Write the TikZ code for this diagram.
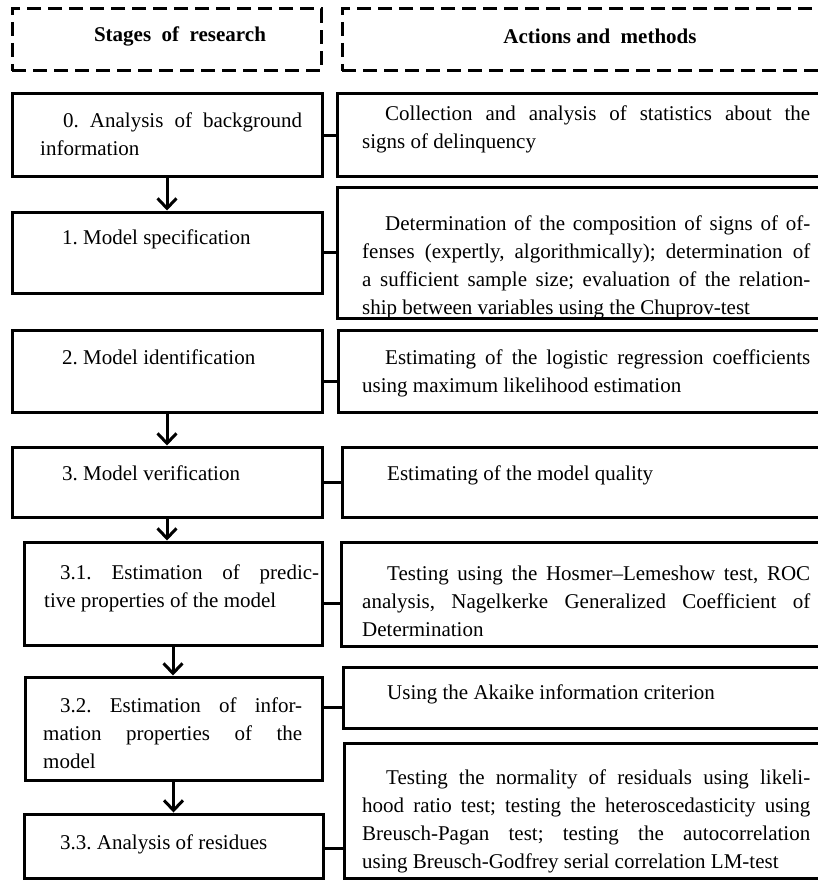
\documentclass[tikz,border=0pt]{standalone}
\usepackage{fontspec}
\setmainfont{Liberation Serif}
\usetikzlibrary{arrows.meta,fit}
\frenchspacing
\begin{document}
\begin{tikzpicture}[x=1pt,y=-1pt,
  box/.style={draw, line width=3pt, inner sep=0pt},
  hdr/.style={draw, dash pattern=on 14pt off 7pt, line width=3pt, inner sep=0pt},
  conn/.style={line width=3pt},
  arr/.style={line width=3pt, -{Straight Barb[length=10pt,width=19pt,line width=3pt]}},
  txt/.style={anchor=north west, inner sep=0pt, text width=#1, align=justify,
    font=\fontsize{21}{28}\selectfont\frenchspacing},
  htxt/.style={inner sep=0pt, font=\fontsize{21}{28}\selectfont\bfseries}]
\path[use as bounding box, clip] (0,0) rectangle (818,880);
% header boxes
\node[hdr, fit={(12,9) (321,71)}] (HL) {};
\node[hdr, fit={(342,9) (840,71)}] (HR) {};
\node[htxt] (hlt) at (180,36) {Stages\ \ of\ \ research};
\node[htxt] (hrt) at (600,36) {Actions and\ \ methods};
% left boxes
\node[box, fit={(12,94) (322,176)}] (L0) {};
\node[box, fit={(12,212) (322,293)}] (L1) {};
\node[box, fit={(12,330) (322,412)}] (L2) {};
\node[box, fit={(12,447) (322,517)}] (L3) {};
\node[box, fit={(24,542) (322,645)}] (L31) {};
\node[box, fit={(25,677) (322,780)}] (L32) {};
\node[box, fit={(24,814) (323,878)}] (L33) {};
% right boxes
\node[box, fit={(337,94) (840,176)}] (R0) {};
\node[box, fit={(337,187) (840,318)}] (R1) {};
\node[box, fit={(338,330) (840,412)}] (R2) {};
\node[box, fit={(342,447) (840,517)}] (R3) {};
\node[box, fit={(341,542) (840,646)}] (R31) {};
\node[box, fit={(343,667) (840,728)}] (R32) {};
\node[box, fit={(344,743) (840,878)}] (R33) {};
% left texts
\node[txt=262pt] (tL0) at (40,112.5) {\hspace*{23pt}0. Analysis of background\linebreak information};
\node[txt=262pt] (tL1) at (40,229.5) {\hspace*{22pt}1. Model specification};
\node[txt=262pt] (tL2) at (40,349.5) {\hspace*{22pt}2. Model identification};
\node[txt=262pt] (tL3) at (40,465.5) {\hspace*{22pt}3. Model verification};
\node[txt=275pt] (tL31) at (44,564.5) {\hspace*{16pt}3.1. Estimation of predic-\linebreak tive properties of the model};
\node[txt=259pt] (tL32) at (43,697.5) {\hspace*{17pt}3.2. Estimation of infor-\linebreak mation properties of the\linebreak model};
\node[txt=262pt] (tL33) at (44,834.5) {\hspace*{16pt}3.3. Analysis of residues};
% right texts
\node[txt=448pt] (tR0) at (362,105.5) {\hspace*{23pt}Collection and analysis of statistics about the\linebreak signs of delinquency};
\node[txt=448pt] (tR1) at (362,215.5) {\hspace*{23pt}Determination of the composition of signs of of-\linebreak fenses (expertly, algorithmically); determination of\linebreak a sufficient sample size; evaluation of the relation-\linebreak ship between variables using the Chuprov-test};
\node[txt=448pt] (tR2) at (362,349.5) {\hspace*{23pt}Estimating of the logistic regression coefficients\linebreak using maximum likelihood estimation};
\node[txt=448pt] (tR3) at (362,465.5) {\hspace*{25pt}Estimating of the model quality};
\node[txt=448pt] (tR31) at (362,565.5) {\hspace*{25pt}Testing using the Hosmer–Lemeshow test, ROC\linebreak analysis, Nagelkerke Generalized Coefficient of\linebreak Determination};
\node[txt=448pt] (tR32) at (362,684.5) {\hspace*{25pt}Using the Akaike information criterion};
\node[txt=448pt] (tR33) at (362,769.5) {\hspace*{24pt}Testing the normality of residuals using likeli-\linebreak hood ratio test; testing the heteroscedasticity using\linebreak Breusch-Pagan test; testing the autocorrelation\linebreak using Breusch-Godfrey serial correlation LM-test};
% connectors
\draw[conn] (L0.east) -- (L0.east -| R0.west);
\draw[conn] (L1.east) -- (L1.east -| R1.west);
\draw[conn] ([yshift=-10pt]L2.east) -- ([yshift=-10pt]L2.east -| R2.west);
\draw[conn] (L3.east) -- (L3.east -| R3.west);
\draw[conn] ([yshift=-9.5pt]L31.east) -- ([yshift=-9.5pt]L31.east -| R31.west);
\draw[conn] ([yshift=21.5pt]L32.east) -- ([yshift=21.5pt]L32.east -| R32.west);
\draw[conn] ([yshift=-2pt]L33.east) -- ([yshift=-2pt]L33.east -| R33.west);
% arrows
\draw[arr] (L0.south) -- (L0.south |- L1.north);
\draw[arr] (L2.south) -- (L2.south |- L3.north);
\draw[arr] (L3.south) -- (L3.south |- L31.north);
\draw[arr] (L31.south) -- (L31.south |- L32.north);
\draw[arr] (L32.south) -- (L32.south |- L33.north);
\end{tikzpicture}
\end{document}
